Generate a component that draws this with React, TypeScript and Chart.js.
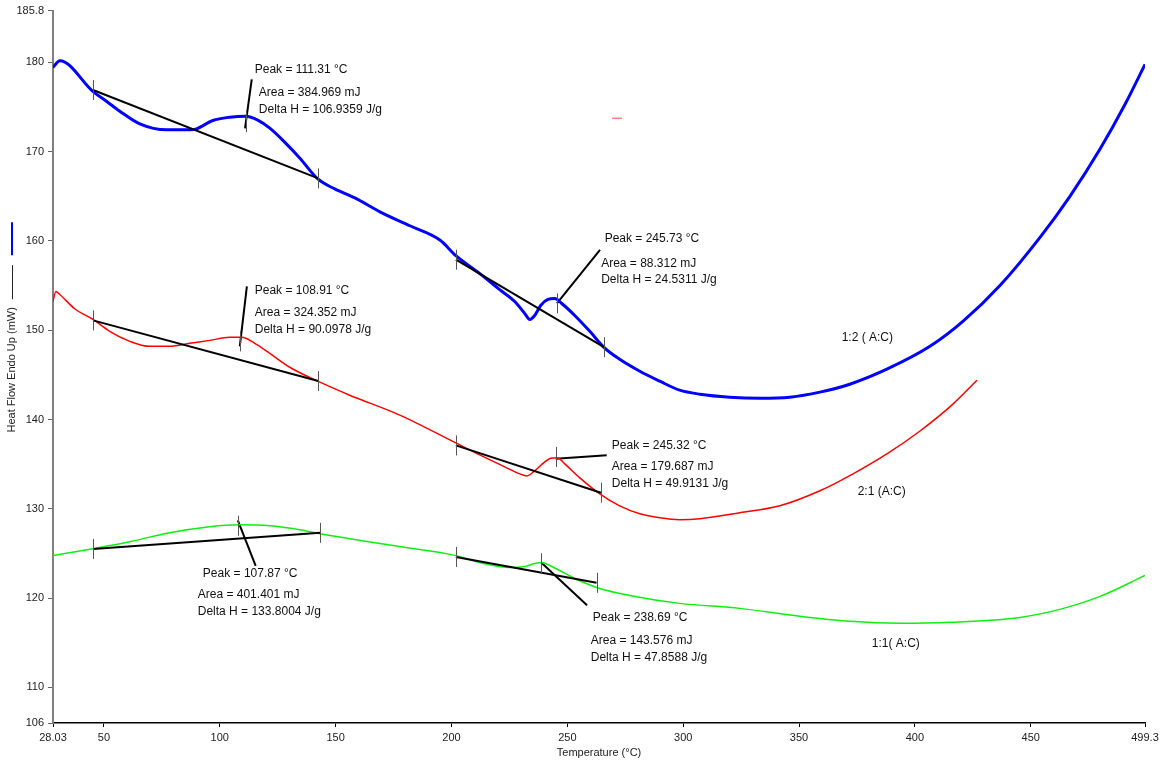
import React, { useEffect, useRef } from "react";
import { Chart, registerables } from "chart.js";

Chart.register(...registerables);

// ---- axis ticks ----
const xTickValues = [28.03, 50, 100, 150, 200, 250, 300, 350, 400, 450, 499.3];
const yTickValues = [106, 110, 120, 130, 140, 150, 160, 170, 180, 185.8];

// ---- curve 1:2 (A:C), blue ----
const blueTemp = [28.03, 30.96, 45.34, 51.1, 56.86, 65.49, 77.01, 87.07, 89.96, 97.0, 104.34, 111.24, 116.4, 121.6, 128.0, 134.5, 142.3, 149.6, 158.3, 169.1, 182.0, 195.0, 201.9, 212.2, 220.8, 227.3, 231.6, 233.8, 235.9, 238.5, 241.6, 244.6, 247.6, 253.2, 259.7, 265.8, 272.6, 281.3, 289.9, 298.5, 307.2, 320.1, 333.1, 346.0, 359.0, 371.9, 387.9, 406.5, 420.7, 436.7, 454.0, 466.9, 479.9, 490.7, 499.3];
const blueHeat = [179.44, 180.19, 176.73, 175.65, 174.53, 173.11, 172.44, 172.44, 172.56, 173.49, 173.86, 173.97, 173.53, 172.63, 171.07, 169.29, 166.94, 165.83, 164.82, 163.26, 161.7, 160.1, 158.35, 156.34, 154.55, 153.21, 151.88, 151.21, 151.65, 152.77, 153.44, 153.55, 152.99, 151.65, 149.87, 148.08, 146.74, 145.4, 144.29, 143.28, 142.83, 142.5, 142.39, 142.5, 143.06, 143.95, 145.63, 148.19, 150.98, 155.0, 160.4, 165.0, 170.3, 175.31, 179.78];

// ---- curve 2:1 (A:C), red ----
const redTemp = [28.03, 29.24, 30.96, 37.4, 45.3, 52.5, 61.2, 69.8, 78.4, 87.1, 95.7, 104.3, 109.5, 115.1, 121.6, 130.2, 142.3, 156.1, 177.7, 201.9, 212.2, 223.0, 229.5, 232.5, 235.9, 240.3, 243.3, 245.9, 248.9, 255.4, 264.0, 272.6, 281.3, 289.9, 298.5, 307.2, 324.4, 341.7, 359.0, 373.3, 387.9, 402.2, 416.4, 426.8];
const redHeat = [153.21, 154.33, 154.0, 152.4, 151.2, 149.87, 148.75, 148.19, 148.19, 148.53, 148.86, 149.2, 149.2, 148.53, 147.41, 145.85, 144.29, 142.72, 140.49, 137.37, 136.03, 134.69, 133.91, 133.68, 134.24, 135.25, 135.69, 135.69, 135.02, 133.46, 131.67, 130.33, 129.44, 128.99, 128.77, 128.88, 129.55, 130.33, 132.01, 133.91, 136.14, 138.71, 141.72, 144.4];

// ---- curve 1:1 (A:C), green ----
const greenTemp = [28.03, 45.3, 61.2, 78.4, 95.7, 108.6, 121.6, 134.5, 143.2, 156.1, 177.7, 201.9, 212.2, 225.2, 231.6, 235.9, 239.0, 242.4, 246.7, 253.2, 264.0, 276.9, 298.5, 324.4, 350.3, 371.9, 393.5, 415.1, 445.3, 462.5, 479.9, 499.3];
const greenHeat = [124.75, 125.53, 126.31, 127.32, 127.99, 128.21, 128.1, 127.65, 127.21, 126.65, 125.76, 124.75, 123.97, 123.41, 123.53, 123.86, 123.97, 123.64, 123.08, 122.19, 121.07, 120.29, 119.4, 118.84, 117.95, 117.39, 117.17, 117.28, 117.83, 118.73, 120.18, 122.52];

// ---- stray red mark ----
const strayTemp = [269.3, 273.6];
const strayHeat = [173.75, 173.75];

// ---- integration baselines [t1, h1, t2, h2] ----
const baselineBlue1 = [45.3, 176.9, 142.5, 167.0];
const baselineBlue2 = [201.9, 157.9, 265.8, 148.1];
const baselineRed1 = [45.3, 151.1, 142.5, 144.3];
const baselineRed2 = [201.9, 137.1, 264.5, 131.8];
const baselineGreen1 = [45.3, 125.5, 143.4, 127.3];
const baselineGreen2 = [201.9, 124.6, 262.6, 121.7];

// ---- peak leader lines [t1, h1, t2, h2] ----
const leaderBlue1 = [110.9, 172.6, 113.8, 178.1];
const leaderBlue2 = [245.5, 153.0, 264.1, 159.0];
const leaderRed1 = [108.65, 148.2, 111.7, 154.9];
const leaderRed2 = [245.0, 135.6, 267.0, 136.0];
const leaderGreen1 = [107.8, 128.7, 115.5, 123.6];
const leaderGreen2 = [238.6, 124.0, 258.5, 119.2];

// ---- vertical marker centres (temp, heat) ----
const markerTemps = [45.3, 142.5, 201.9, 265.8, 111.31, 245.73, 45.3, 142.5, 201.9, 264.5, 108.91, 245.32, 45.3, 143.4, 201.9, 262.6, 107.87, 238.69];
const markerHeats = [176.9, 167.0, 157.9, 148.1, 173.3, 153.0, 151.1, 144.3, 137.1, 131.8, 148.75, 135.8, 125.5, 127.3, 124.6, 121.7, 128.1, 123.9];

// ---- annotation texts ----
const noteTexts = [
  "Peak = 111.31 °C", "Area = 384.969 mJ", "Delta H = 106.9359 J/g",
  "Peak = 245.73 °C", "Area = 88.312 mJ", "Delta H = 24.5311 J/g",
  "Peak = 108.91 °C", "Area = 324.352 mJ", "Delta H = 90.0978 J/g",
  "Peak = 245.32 °C", "Area = 179.687 mJ", "Delta H = 49.9131 J/g",
  "Peak = 107.87 °C", "Area = 401.401 mJ", "Delta H = 133.8004 J/g",
  "Peak = 238.69 °C", "Area = 143.576 mJ", "Delta H = 47.8588 J/g",
  "1:2 ( A:C)", "2:1 (A:C)", "1:1( A:C)",
];
const noteTemps = [
  115.1, 116.85, 116.85,
  266.1, 264.6, 264.6,
  115.1, 115.1, 115.1,
  269.2, 269.2, 269.2,
  92.7, 90.5, 90.5,
  261.0, 260.1, 260.1,
  368.4, 375.3, 381.4,
];
const noteHeats = [
  179.22, 176.65, 174.75,
  160.25, 157.46, 155.67,
  154.44, 151.99, 150.09,
  137.03, 134.69, 132.79,
  122.75, 120.4, 118.5,
  117.83, 115.27, 113.37,
  149.2, 131.9, 114.93,
];

const FONT = "'Liberation Sans', Arial, sans-serif";

function zip(xs: number[], ys: number[]) {
  const n = Math.min(xs.length, ys.length);
  const out: { x: number; y: number }[] = [];
  for (let i = 0; i < n; i++) out.push({ x: xs[i], y: ys[i] });
  return out;
}
function seg(s: number[]) {
  return [
    { x: s[0], y: s[1] },
    { x: s[2], y: s[3] },
  ];
}

const overlayPlugin = {
  id: "overlay",
  afterDatasetsDraw(chart: any) {
    const { ctx, scales, chartArea } = chart;
    const xs = scales.x;
    const ys = scales.y;
    ctx.save();
    // markers
    ctx.strokeStyle = "#555";
    ctx.lineWidth = 1;
    const n = Math.min(markerTemps.length, markerHeats.length);
    for (let i = 0; i < n; i++) {
      const px = Math.round(xs.getPixelForValue(markerTemps[i])) + 0.5;
      const py = ys.getPixelForValue(markerHeats[i]);
      ctx.beginPath();
      ctx.moveTo(px, py - 10);
      ctx.lineTo(px, py + 10);
      ctx.stroke();
    }
    // texts
    ctx.fillStyle = "#111";
    ctx.font = `12px ${FONT}`;
    ctx.textAlign = "left";
    ctx.textBaseline = "middle";
    for (let i = 0; i < noteTexts.length; i++) {
      ctx.fillText(noteTexts[i], xs.getPixelForValue(noteTemps[i]), ys.getPixelForValue(noteHeats[i]));
    }
    // y axis title with legend swatch
    const title = "Heat Flow Endo Up (mW)";
    ctx.font = `11px ${FONT}`;
    const w = ctx.measureText(title).width;
    const cx = 12;
    const cy = (chartArea.top + chartArea.bottom) / 2 + 3;
    ctx.save();
    ctx.translate(cx, cy);
    ctx.rotate(-Math.PI / 2);
    ctx.textAlign = "center";
    ctx.textBaseline = "middle";
    ctx.fillStyle = "#222";
    ctx.fillText(title, 0, 0);
    ctx.restore();
    const topText = cy - w / 2;
    ctx.strokeStyle = "#222";
    ctx.lineWidth = 1;
    ctx.beginPath();
    ctx.moveTo(cx + 0.5, topText - 8);
    ctx.lineTo(cx + 0.5, topText - 42);
    ctx.stroke();
    ctx.strokeStyle = "#0000ff";
    ctx.lineWidth = 2;
    ctx.beginPath();
    ctx.moveTo(cx, topText - 52);
    ctx.lineTo(cx, topText - 85);
    ctx.stroke();
    ctx.restore();
  },
};

export default function App() {
  const ref = useRef<HTMLCanvasElement | null>(null);
  useEffect(() => {
    document.body.style.margin = "0";
    if (!ref.current) return;
    const black = (s: number[]) => ({
      data: seg(s),
      borderColor: "#000",
      borderWidth: 2,
      pointRadius: 0,
      showLine: true,
      fill: false,
    });
    const chart = new Chart(ref.current, {
      type: "scatter",
      data: {
        datasets: [
          black(baselineBlue1),
          black(baselineBlue2),
          black(baselineRed1),
          black(baselineRed2),
          black(baselineGreen1),
          black(baselineGreen2),
          {
            label: "1:2 (A:C)",
            data: zip(blueTemp, blueHeat),
            borderColor: "#0000ff",
            borderWidth: 3,
            pointRadius: 0,
            showLine: true,
            cubicInterpolationMode: "monotone",
          },
          {
            label: "2:1 (A:C)",
            data: zip(redTemp, redHeat),
            borderColor: "#ff0000",
            borderWidth: 1.5,
            pointRadius: 0,
            showLine: true,
            cubicInterpolationMode: "monotone",
          },
          {
            label: "1:1 (A:C)",
            data: zip(greenTemp, greenHeat),
            borderColor: "#11ee11",
            borderWidth: 1.5,
            pointRadius: 0,
            showLine: true,
            cubicInterpolationMode: "monotone",
          },
          {
            data: zip(strayTemp, strayHeat),
            borderColor: "#ff4444",
            borderWidth: 1,
            pointRadius: 0,
            showLine: true,
          },
          black(leaderBlue1),
          black(leaderBlue2),
          black(leaderRed1),
          black(leaderRed2),
          black(leaderGreen1),
          black(leaderGreen2),
        ] as any,
      },
      options: {
        animation: false,
        responsive: false,
        maintainAspectRatio: false,
        layout: { padding: { left: 0, right: 20, top: 8, bottom: 0 } },
        plugins: {
          legend: { display: false },
          tooltip: { enabled: false },
        },
        scales: {
          x: {
            type: "linear",
            min: 28.03,
            max: 499.3,
            afterBuildTicks: (axis: any) => {
              axis.ticks = xTickValues.map((v) => ({ value: v }));
            },
            afterFit: (axis: any) => {
              axis.height = 46;
            },
            ticks: {
              autoSkip: false,
              maxRotation: 0,
              color: "#222",
              font: { family: FONT, size: 11 },
              padding: 4,
              callback: (v: any) => String(v),
            },
            grid: {
              display: true,
              drawOnChartArea: false,
              drawTicks: true,
              tickLength: 4,
              tickColor: "#000",
            },
            border: { display: true, color: "#000", width: 1.5 },
            title: {
              display: true,
              text: "Temperature (°C)",
              color: "#222",
              font: { family: FONT, size: 11 },
              padding: { top: 0, bottom: 9 },
            },
          },
          y: {
            type: "linear",
            min: 106,
            max: 185.8,
            afterBuildTicks: (axis: any) => {
              axis.ticks = yTickValues.map((v) => ({ value: v }));
            },
            afterFit: (axis: any) => {
              axis.width = 53;
            },
            ticks: {
              autoSkip: false,
              color: "#222",
              font: { family: FONT, size: 11 },
              padding: 4,
              callback: (v: any) => String(v),
            },
            grid: {
              display: true,
              drawOnChartArea: false,
              drawTicks: true,
              tickLength: 5,
              tickColor: "#666",
            },
            border: { display: true, color: "#808080", width: 2 },
          },
        },
      } as any,
      plugins: [overlayPlugin],
    });
    return () => chart.destroy();
  }, []);
  return (
    <div style={{ width: 1165, height: 769, background: "#fff" }}>
      <canvas ref={ref} width={1165} height={769} style={{ display: "block" }} />
    </div>
  );
}
